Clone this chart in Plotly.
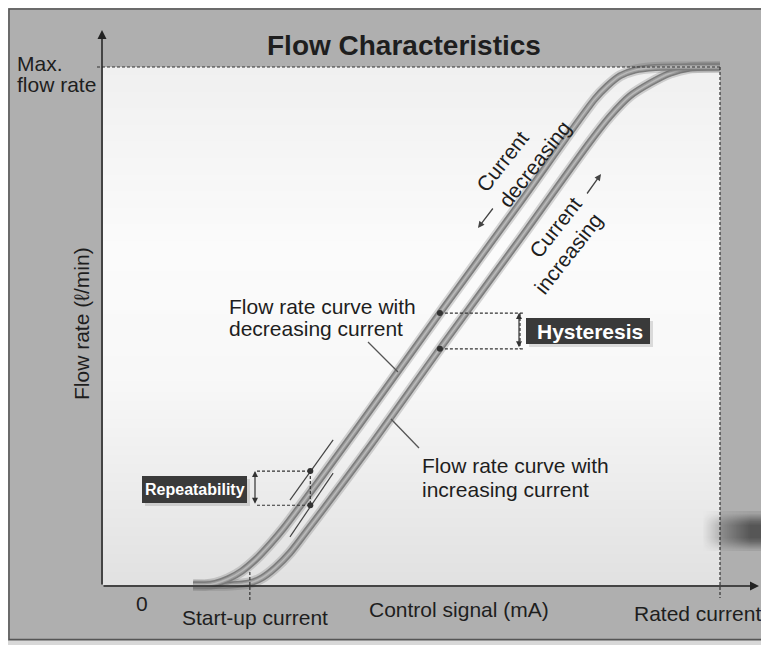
import plotly.graph_objects as go

# ---------------- data (x: control signal, % of rated current; y: flow, % of max) -------------
dec_x = [14.6, 16.5, 18.2, 20.3, 22.5, 24.8, 27.1, 29.3, 41.7, 54.6, 67.6, 79.7, 81.7, 83.8, 86.2, 89.5, 93.5, 100]
dec_y = [0.0, 0.0, 0.3, 1.2, 2.7, 5.0, 7.9, 11.0, 31.1, 52.5, 73.8, 93.8, 96.3, 98.3, 99.4, 99.9, 100, 100]
inc_x = [14.6, 20.6, 23.8, 25.8, 27.9, 30.3, 32.7, 43.3, 54.6, 67.6, 78.9, 82.2, 85.4, 88.7, 91.9, 95.1, 100]
inc_y = [0.0, 0.0, 0.4, 1.4, 3.3, 6.2, 9.9, 26.8, 45.6, 66.8, 85.5, 90.5, 94.4, 96.9, 98.8, 99.8, 100]

startup_current = 23.8
rated_current = 100
max_flow = 100

hyst_x = [54.6, 54.6]          # hysteresis points on the two curves
hyst_y = [52.5, 45.6]
rep_x = [33.6, 33.6]           # repeatability points
rep_y = [22.0, 15.4]
rep1_x = [30.3, 37.3]; rep1_y = [16.4, 28.0]   # thin repeat-curve segments
rep2_x = [30.3, 37.3]; rep2_y = [9.3, 21.6]

title_text = "Flow Characteristics"
x_title = "Control signal (mA)"
y_title = "Flow rate (\u2113/min)"
x_labels = ["0", "Start-up current", "Rated current"]

# ---------------- layout helpers (screen pixel -> axis units) ----------------
OFF = 8                       # page body margin
SW, SH = 769, 645             # screen size
FW, FH = SW - OFF, SH - OFF   # figure size
X0, XS = 103, 6.17
Y0, YS = 585, 5.18
def X(px): return (px - X0) / XS
def Y(py): return (Y0 - py) / YS
def PX(px): return (px - OFF) / FW
def PY(py): return 1 - (py - OFF) / FH

FONT = "Liberation Sans, Arial, Helvetica, sans-serif"
TXT = "#1e1e1e"

fig = go.Figure()

# ---- background of the chart region (smooth vertical gradient) ----
ny = 40
top, bot = 67, 585
ys_c, zrows = [], []
for i in range(ny):
    t = (i + 0.5) / ny
    if t < 0.35:
        c = 240 + (251 - 240) * t / 0.35
    elif t < 0.6:
        c = 251 - 3 * (t - 0.35) / 0.25
    else:
        c = 248 - (248 - 225) * (t - 0.6) / 0.4
    ys_c.append(Y(top + (bot - top) * t))
    zrows.append([c, c])
xs_c = [X(103 + 617 * 0.25), X(103 + 617 * 0.75)]
fig.add_trace(go.Heatmap(x=xs_c, y=ys_c, z=zrows, zmin=0, zmax=255, zsmooth="best",
                         colorscale=[[0, "rgb(0,0,0)"], [1, "rgb(255,255,255)"]],
                         showscale=False, hoverinfo="skip"))
# dark smudge at right edge
sx = [X(690 + i * 8 + 4) for i in range(10)]
sy = [Y(551 - j * 4 - 2) for j in range(10)]
sz = []
for j in range(10):
    v = 1 - abs(j - 4.5) / 5.0
    v = min(1, v * 1.6)
    sz.append([v * min(1, max(0, (i - 1) / 6)) for i in range(10)])
fig.add_trace(go.Heatmap(x=sx, y=sy, z=sz, zmin=0, zmax=1, zsmooth="best",
                         colorscale=[[0, "rgba(70,70,70,0)"], [1, "rgba(70,70,70,0.85)"]],
                         showscale=False, hoverinfo="skip"))

# tube-like curves
for xs, ys in [(inc_x, inc_y), (dec_x, dec_y)]:
    fig.add_trace(go.Scatter(x=xs, y=ys, mode="lines", line=dict(color="rgba(100,100,100,0.25)", width=11, shape="spline", smoothing=0.8), hoverinfo="skip"))
    fig.add_trace(go.Scatter(x=xs, y=ys, mode="lines", line=dict(color="#7c7c7c", width=7, shape="spline", smoothing=0.8), hoverinfo="skip"))
    fig.add_trace(go.Scatter(x=xs, y=ys, mode="lines", line=dict(color="#9c9c9c", width=4, shape="spline", smoothing=0.8), hoverinfo="skip"))
    fig.add_trace(go.Scatter(x=xs, y=ys, mode="lines", line=dict(color="#b9b9b9", width=1.5, shape="spline", smoothing=0.8), hoverinfo="skip"))

# thin repeatability segments
for xs, ys in [(rep1_x, rep1_y), (rep2_x, rep2_y)]:
    fig.add_trace(go.Scatter(x=xs, y=ys, mode="lines", line=dict(color="#444", width=1.2), hoverinfo="skip"))

# points
fig.add_trace(go.Scatter(x=hyst_x + rep_x, y=hyst_y + rep_y, mode="markers",
                         marker=dict(color="#333", size=6), hoverinfo="skip"))

shapes = []
# outer frame
shapes.append(dict(type="rect", xref="paper", yref="paper", x0=PX(765), x1=PX(775), y0=PY(650), y1=PY(0),
                   fillcolor="#d8d8d8", line=dict(width=0), layer="below"))
shapes.append(dict(type="rect", xref="paper", yref="paper", x0=PX(0), x1=PX(775), y0=PY(650), y1=PY(641),
                   fillcolor="#d8d8d8", line=dict(width=0), layer="below"))
shapes.append(dict(type="rect", xref="paper", yref="paper", x0=PX(9), x1=PX(763.5), y0=PY(639.5), y1=PY(9),
                   line=dict(color="#555", width=1.5), fillcolor="rgba(0,0,0,0)", layer="below"))

dash = dict(color="#333", width=1.2, dash="3px,2px")
# max flow / rated current / start-up dashed guides
shapes.append(dict(type="line", x0=X(97), x1=rated_current, y0=max_flow, y1=max_flow, line=dash))
shapes.append(dict(type="line", x0=rated_current, x1=rated_current, y0=max_flow, y1=Y(598), line=dash))
shapes.append(dict(type="line", x0=startup_current, x1=startup_current, y0=Y(572), y1=Y(601), line=dash))
# hysteresis guides
for yy in hyst_y:
    shapes.append(dict(type="line", x0=hyst_x[0], x1=X(524), y0=yy, y1=yy, line=dash))
shapes.append(dict(type="line", x0=X(520), x1=X(520), y0=hyst_y[0], y1=hyst_y[1], line=dash))
# repeatability guides
for yy in rep_y:
    shapes.append(dict(type="line", x0=X(257), x1=rep_x[0], y0=yy, y1=yy, line=dash))
shapes.append(dict(type="line", x0=rep_x[0], x1=rep_x[0], y0=rep_y[0], y1=rep_y[1], line=dash))
# leader lines
shapes.append(dict(type="line", x0=X(368), y0=Y(342), x1=X(398), y1=Y(372), line=dict(color="#555", width=1.3)))
shapes.append(dict(type="line", x0=X(391), y0=Y(419), x1=X(419), y1=Y(448), line=dict(color="#555", width=1.3)))
# label boxes
shapes.append(dict(type="rect", x0=X(529), x1=X(653), y0=Y(347), y1=Y(321), fillcolor="rgba(0,0,0,0.12)", line=dict(width=0)))
shapes.append(dict(type="rect", x0=X(526), x1=X(650), y0=Y(344), y1=Y(318), fillcolor="#3a3a3a", line=dict(width=0)))
shapes.append(dict(type="rect", x0=X(145), x1=X(250), y0=Y(506), y1=Y(479), fillcolor="rgba(0,0,0,0.12)", line=dict(width=0)))
shapes.append(dict(type="rect", x0=X(142), x1=X(247), y0=Y(503), y1=Y(476), fillcolor="#3a3a3a", line=dict(width=0)))

ann = []
def text(px, py, s, size=21, bold=False, color=TXT, angle=0, xanchor="center"):
    ann.append(dict(x=X(px), y=Y(py), text=f"<b>{s}</b>" if bold else s, showarrow=False,
                    font=dict(family=FONT, size=size, color=color), textangle=angle,
                    xanchor=xanchor, yanchor="middle"))

def arrow(hx, hy, tx, ty, width=1.5, color="#222", size=1.2, both=False):
    d = dict(x=hx, y=hy, ax=tx, ay=ty, xref="x", yref="y", axref="x", ayref="y",
             showarrow=True, arrowhead=2, arrowsize=size, arrowwidth=width, arrowcolor=color, text="")
    if both:
        d.update(startarrowhead=2, arrowside="end+start", startarrowsize=size)
    ann.append(d)

# axes with arrows
arrow(X(102), Y(30), X(102), Y(586))
arrow(X(759), Y(586), X(102), Y(586))
# double arrows
arrow(X(519), hyst_y[0], X(519), hyst_y[1], width=1.2, color="#333", size=1, both=True)
arrow(X(255), rep_y[0], X(255), rep_y[1], width=1.2, color="#333", size=1, both=True)
# direction arrows
arrow(X(478), Y(228), X(494), Y(207), width=1.3, color="#444", size=1)
arrow(X(601), Y(174), X(586), Y(195), width=1.3, color="#444", size=1)

text(404, 45, title_text, size=28, bold=True)
text(15, 63, "Max.", xanchor="left")
text(15, 84, "flow rate", xanchor="left")
text(81, 324, y_title, angle=-90)
text(142, 603, x_labels[0])
text(180, 617, x_labels[1], xanchor="left")
text(367, 609, x_title, xanchor="left")
text(632, 613, x_labels[2], xanchor="left")
text(227, 306, "Flow rate curve with", xanchor="left")
text(227, 328, "decreasing current", xanchor="left")
text(420, 465, "Flow rate curve with", xanchor="left")
text(420, 489, "increasing current", xanchor="left")
text(590, 331, "Hysteresis", size=21, bold=True, color="white")
text(195, 489, "Repeatability", size=16, bold=True, color="white")
text(502, 161, "Current", angle=-52)
text(534, 164, "decreasing", angle=-52)
text(555, 227, "Current", angle=-52)
text(568, 253, "increasing", angle=-52)

fig.update_layout(
    width=FW, height=FH, margin=dict(l=0, r=0, t=0, b=0),
    paper_bgcolor="#afafaf", plot_bgcolor="rgba(0,0,0,0)",
    showlegend=False, shapes=shapes, annotations=ann,
    xaxis=dict(range=[X(OFF), X(SW)], visible=False, fixedrange=True),
    yaxis=dict(range=[Y(SH), Y(OFF)], visible=False, fixedrange=True),
)
fig.write_html("out.html")
